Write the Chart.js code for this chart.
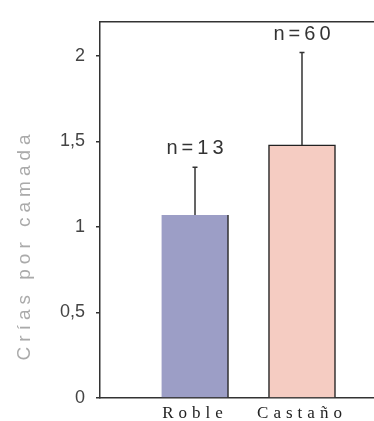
<!DOCTYPE html>
<html>
<head>
<meta charset="utf-8">
<script src="https://cdn.jsdelivr.net/npm/chart.js@4"></script>
<style>
    body { margin: 0; background: #fff; }
    canvas { display: block; }
</style>
</head>
<body>
<canvas id="crias" width="374" height="421"></canvas>
<script>
const categories = ["Roble", "Castaño"];
const means = [1.07, 1.48];
const errors = [0.28, 0.54];
const sampleSizes = [13, 60];
const yTicks = [0, 0.5, 1, 1.5, 2];

const barColors = ["#9c9ec6", "#f5ccc2"];
const barBorders = [
    { left: 0, top: 0, right: 1.5, bottom: 0 },
    { left: 1.5, top: 1.5, right: 1.5, bottom: 0 }
];

// wrap a scale's draw step with letter spacing / shift
function spaced(scale, key, spacing, dy) {
    if (scale["_sp_" + key]) return;
    const orig = scale[key].bind(scale);
    scale[key] = (a) => {
        const ctx = scale.ctx;
        ctx.save();
        ctx.letterSpacing = spacing;
        ctx.translate(0, dy || 0);
        orig(a);
        ctx.restore();
    };
    scale["_sp_" + key] = true;
}

const extras = {
    id: "extras",
    afterLayout(chart) {
        spaced(chart.scales.x, "drawLabels", "5px");
        spaced(chart.scales.y, "drawTitle", "5px", 35);
    },
    afterDatasetsDraw(chart) {
        const ctx = chart.ctx;
        const y = chart.scales.y;
        const meta = chart.getDatasetMeta(0);
        ctx.save();
        meta.data.forEach((bar, i) => {
            const top = y.getPixelForValue(means[i] + errors[i]);
            ctx.strokeStyle = "#333";
            ctx.lineWidth = 1.5;
            ctx.beginPath();
            ctx.moveTo(bar.x, bar.y);
            ctx.lineTo(bar.x, top);
            ctx.moveTo(bar.x - 2.5, top);
            ctx.lineTo(bar.x + 2.5, top);
            ctx.stroke();

            ctx.letterSpacing = "4px";
            ctx.fillStyle = "#333";
            ctx.font = "20px 'Liberation Sans'";
            ctx.textAlign = "center";
            ctx.textBaseline = "alphabetic";
            ctx.fillText("n=" + sampleSizes[i], bar.x + 2, top - 13);
        });
        ctx.restore();
    }
};

new Chart(document.getElementById("crias"), {
    type: "bar",
    data: {
        datasets: [{
            data: categories.map((c, i) => ({ x: i + 1, y: means[i] })),
            backgroundColor: barColors,
            borderColor: "#222",
            borderWidth: (c) => barBorders[c.dataIndex],
            borderSkipped: false,
            barThickness: 67
        }]
    },
    options: {
        responsive: false,
        animation: false,
        layout: { padding: { top: 12, right: 0, left: 0, bottom: 0 } },
        plugins: {
            legend: { display: false },
            tooltip: { enabled: false }
        },
        scales: {
            x: {
                type: "linear",
                offset: false,
                min: 0.112,
                max: 2.673,
                afterBuildTicks: (s) => { s.ticks = categories.map((c, i) => ({ value: i + 1 })); },
                afterFit: (s) => { s.height = 23; },
                ticks: {
                    callback: (v, i) => categories[i],
                    color: "#222",
                    padding: 5,
                    maxRotation: 0,
                    font: { family: "'Liberation Serif'", size: 17 }
                },
                grid: { display: false, drawTicks: false, offset: false },
                border: { display: true, color: "#333", width: 1.5 }
            },
            xTop: {
                type: "linear",
                position: "top",
                ticks: { display: false },
                grid: { display: false, drawTicks: false },
                border: { display: true, color: "#333", width: 1.5 },
                afterFit: (s) => { s.height = 0; }
            },
            y: {
                min: 0,
                max: 2.2,
                afterBuildTicks: (s) => { s.ticks = yTicks.map(v => ({ value: v })); },
                afterFit: (s) => { s.width = 100; },
                ticks: {
                    callback: (v) => String(v).replace(".", ","),
                    color: "#444",
                    padding: 11,
                    font: { family: "'Liberation Sans'", size: 18 }
                },
                grid: { drawOnChartArea: false, drawTicks: true, tickLength: 4, color: "#333", lineWidth: 1.5 },
                border: { display: true, color: "#333", width: 1.5 },
                title: {
                    display: true,
                    text: "Crías por camada",
                    color: "#aaa",
                    padding: { top: 13, bottom: 0 },
                    font: { family: "'Liberation Sans'", size: 19 }
                }
            }
        }
    },
    plugins: [extras]
});
</script>
</body>
</html>
